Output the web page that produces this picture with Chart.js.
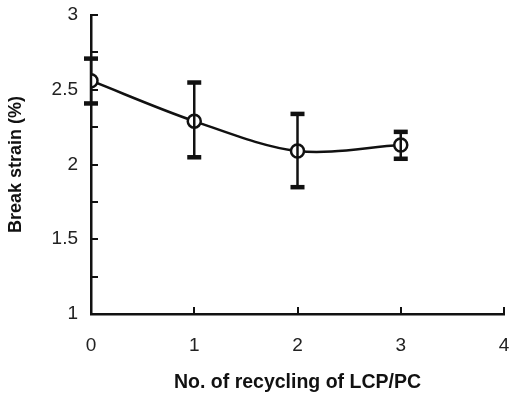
<!DOCTYPE html>
<html>
<head>
<meta charset="utf-8">
<script src="https://cdn.jsdelivr.net/npm/chart.js@4.4.0/dist/chart.umd.min.js"></script>
<style>
  html, body { margin: 0; padding: 0; background: #fff; }
  #wrap { width: 513px; height: 397px; }
</style>
</head>
<body>
<div id="wrap"><canvas id="chart" width="513" height="397"></canvas></div>
<script>
// values
var cycles = [0, 1, 2, 3];
var strain = [2.56, 2.29, 2.09, 2.13];
var errLow = [2.41, 2.05, 1.85, 2.04];
var errHigh = [2.71, 2.55, 2.34, 2.22];

var xTicks = [0, 1, 2, 3, 4];
var yLabels = [1, 1.5, 2, 2.5, 3];

var pts = [];
for (var i = 0; i < cycles.length; i++) {
  pts.push({ x: cycles[i], y: strain[i] });
}

// inward tick marks on both axes
var innerTicks = {
  id: 'innerTicks',
  afterDraw: function(chart) {
    var ctx = chart.ctx;
    var xs = chart.scales.x, ys = chart.scales.y;
    var area = chart.chartArea;
    ctx.save();
    ctx.strokeStyle = '#111';
    ctx.lineWidth = 2;
    ctx.beginPath();
    xs.ticks.forEach(function(t) {
      var px = Math.round(xs.getPixelForValue(t.value));
      if (t.value === 0) return;
      ctx.moveTo(px, area.bottom);
      ctx.lineTo(px, area.bottom - 7);
    });
    ys.ticks.forEach(function(t) {
      var py = Math.round(ys.getPixelForValue(t.value));
      if (t.value === 1) return;
      ctx.moveTo(area.left, py);
      ctx.lineTo(area.left + 7, py);
    });
    ctx.stroke();
    ctx.restore();
  }
};

// error bars with thick caps
var errorBars = {
  id: 'errorBars',
  afterDatasetsDraw: function(chart) {
    var ctx = chart.ctx;
    var xs = chart.scales.x, ys = chart.scales.y;
    ctx.save();
    ctx.fillStyle = '#111';
    ctx.strokeStyle = '#111';
    for (var i = 0; i < cycles.length; i++) {
      var px = xs.getPixelForValue(cycles[i]);
      var top = ys.getPixelForValue(errHigh[i]);
      var bot = ys.getPixelForValue(errLow[i]);
      ctx.lineWidth = 2.5;
      ctx.beginPath();
      ctx.moveTo(px, top);
      ctx.lineTo(px, bot);
      ctx.stroke();
      ctx.fillRect(px - 7, top - 2, 14, 4.5);
      ctx.fillRect(px - 7, bot - 2, 14, 4.5);
    }
    ctx.restore();
  }
};

var ctx = document.getElementById('chart');

var chart = new Chart(ctx, {
  type: 'line',
  data: {
    datasets: [
      {
        label: 'Break strain',
        data: pts,
        borderColor: '#111',
        borderWidth: 2.5,
        backgroundColor: '#fff',
        pointBackgroundColor: '#fff',
        pointBorderColor: '#111',
        pointBorderWidth: 2.5,
        pointRadius: 6.5,
        tension: 0.32,
        fill: false
      }
    ]
  },
  options: {
    responsive: false,
    animation: false,
    layout: { padding: { top: 15, right: 4, left: 0, bottom: 0 } },
    plugins: {
      legend: { display: false },
      tooltip: { enabled: false }
    },
    scales: {
      x: {
        type: 'linear',
        min: 0,
        max: 4,
        grid: { display: false },
        border: { display: true, color: '#111', width: 2.5 },
        ticks: {
          stepSize: 1,
          padding: 12,
          color: '#222',
          maxRotation: 0,
          font: { family: 'Liberation Sans', size: 19 },
          callback: function(v) { return xTicks.indexOf(v) >= 0 ? String(v) : ''; }
        },
        title: {
          display: true,
          text: 'No. of recycling of LCP/PC',
          color: '#111',
          font: { family: 'Liberation Sans', size: 19.5, weight: 'bold' },
          padding: { top: 0, bottom: 3 }
        },
        afterFit: function(scale) {
          scale.height = 83;
          scale.paddingLeft = 0;
          scale.paddingRight = 0;
        }
      },
      y: {
        min: 1,
        max: 3,
        grid: { display: false },
        border: { display: true, color: '#111', width: 2.5 },
        ticks: {
          stepSize: 0.25,
          padding: 5,
          color: '#222',
          font: { family: 'Liberation Sans', size: 19 },
          callback: function(v) { return yLabels.indexOf(v) >= 0 ? String(v) : ''; }
        },
        title: {
          display: true,
          text: 'Break strain (%)',
          color: '#111',
          font: { family: 'Liberation Sans', size: 18, weight: 'bold' },
          padding: { top: 5, bottom: 0 }
        },
        afterFit: function(scale) {
          scale.width = 91;
          scale.paddingTop = 0;
          scale.paddingBottom = 0;
        }
      }
    }
  },
  plugins: [innerTicks, errorBars]
});
</script>
</body>
</html>
